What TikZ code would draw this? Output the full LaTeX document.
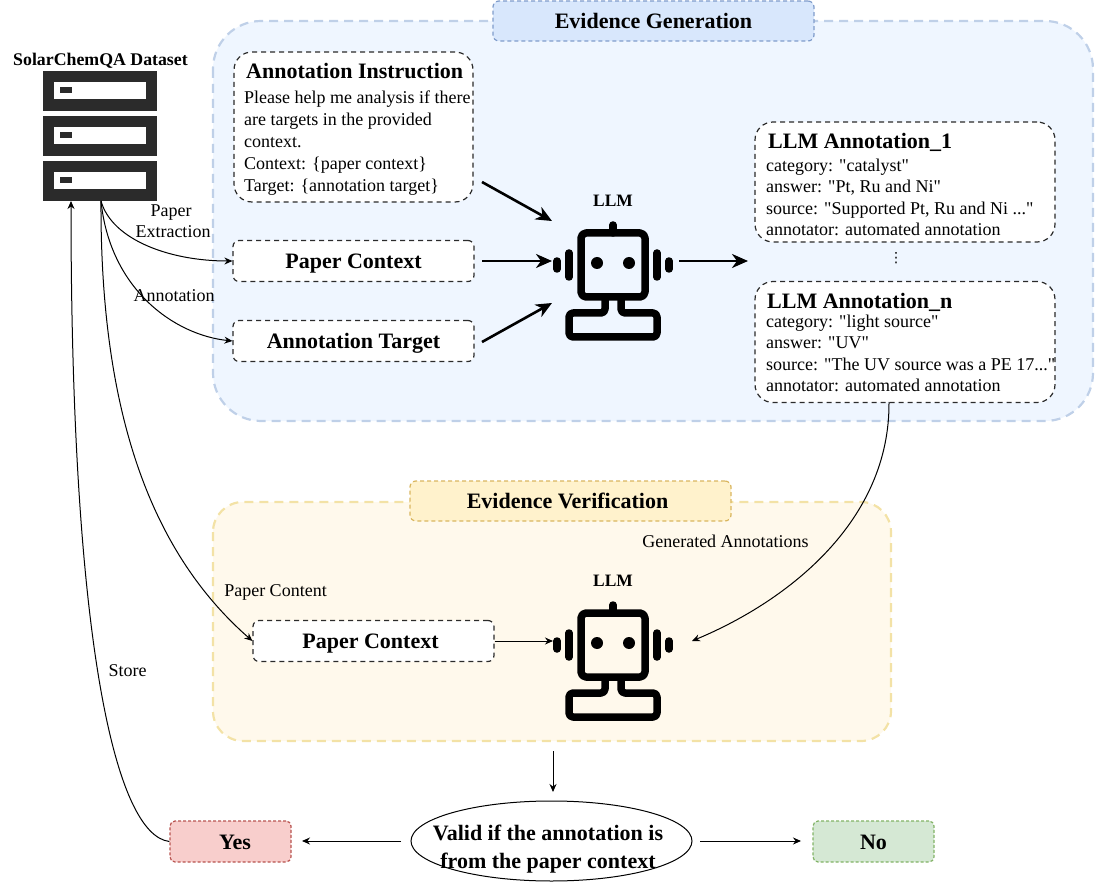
\documentclass[tikz,border=0pt]{standalone}
\usepackage{fontspec}
\setmainfont{Liberation Serif}[Ligatures=TeXOff]
\newfontfamily\dvfont{DejaVu Sans}
\usetikzlibrary{arrows.meta,shapes.geometric}
\definecolor{genfill}{HTML}{EFF6FF}
\definecolor{gendraw}{HTML}{BFD0E8}
\definecolor{gentitle}{HTML}{D8E7FC}
\definecolor{gentitled}{HTML}{7F9CCB}
\definecolor{verfill}{HTML}{FFF9EC}
\definecolor{verdraw}{HTML}{F3E2A6}
\definecolor{vertitle}{HTML}{FFF2CC}
\definecolor{vertitled}{HTML}{D9B65F}
\definecolor{yesfill}{HTML}{F8CECC}
\definecolor{yesdraw}{HTML}{B85450}
\definecolor{nofill}{HTML}{D5E8D4}
\definecolor{nodraw}{HTML}{82B366}
\definecolor{inkd}{HTML}{2B2B2B}
\tikzset{
  x=1pt,y=-1pt,
  panel/.style={line width=2.2pt,dash pattern=on 9pt off 6pt},
  titlebox/.style={line width=1.2pt,dash pattern=on 4pt off 3pt,rounded corners=6pt,font=\fontsize{22}{25}\selectfont\bfseries,inner sep=0pt,minimum width=321pt,minimum height=40pt},
  boxd/.style={draw=inkd,fill=white,line width=1.2pt,dash pattern=on 5pt off 4pt,rounded corners=6pt,inner sep=0pt,font=\fontsize{22}{25}\selectfont\bfseries,text height=15pt,text depth=0pt},
  bigbox/.style={boxd,rounded corners=18pt},
  resbox/.style={line width=1.2pt,dash pattern=on 3pt off 2pt,rounded corners=5pt,inner sep=0pt,minimum width=121pt,minimum height=41pt,font=\fontsize{22}{25}\selectfont\bfseries,text height=15pt,text depth=0pt},
  heavy/.style={line width=2.6pt,-{Stealth[length=16pt,width=14pt,inset=5pt]}},
  slim/.style={line width=1pt,-{Stealth[length=8pt,width=7pt]}},
  lbl/.style={font=\fontsize{18}{21}\selectfont,inner sep=0pt},
  blbl/.style={font=\fontsize{22}{25}\selectfont\bfseries,inner sep=0pt},
  body/.style={anchor=north west,align=left,inner sep=0pt,font=\fontsize{18}{21.3}\selectfont},
  smallb/.style={font=\fontsize{17.4}{20}\selectfont\bfseries,inner sep=0pt},
  rob/.style={line width=7.5pt,line cap=round,line join=round,draw=black},
}
\newcommand{\robot}[2]{%
  \begin{scope}[shift={(#1,#2)}]
    \draw[rob,rounded corners=5pt] (-32,-30) rectangle (32,34);
    \draw[rob] (0,-38) -- (0,-30);
    \fill (-16,0) circle (6);
    \fill (16,0) circle (6);
    \draw[rob] (-44,-10) -- (-44,14);
    \draw[rob] (44,-10) -- (44,14);
    \draw[rob] (-56,-2) -- (-56,6);
    \draw[rob] (56,-2) -- (56,6);
    \draw[rob,line cap=butt,rounded corners=4pt] (-8,34) -- (-8,50) -- (-44,50) -- (-44,74) -- (44,74) -- (44,50) -- (8,50) -- (8,34);
  \end{scope}}
\newcommand{\rack}[1]{%
  \fill[inkd] (43,#1) rectangle (157,#1+40);
  \fill[white] (54,#1+11) rectangle (146,#1+28);
  \fill[inkd] (60,#1+16) rectangle (72,#1+22);}
\begin{document}
\begin{tikzpicture}
\useasboundingbox (0,0) rectangle (1095,882);
% panels
\draw[panel,draw=gendraw,fill=genfill,rounded corners=48pt] (213,21) rectangle (1093,421);
\draw[panel,draw=verdraw,fill=verfill,rounded corners=30pt] (213,502) rectangle (891,741);
\node[titlebox,draw=gentitled,fill=gentitle] (gentitle) at (653.5,21) {Evidence Generation};
\node[titlebox,draw=vertitled,fill=vertitle] (vertitle) at (570.5,501) {\hspace*{-6pt}Evidence Verification};
% dataset
\node[font=\fontsize{17.8}{20}\selectfont\bfseries,inner sep=0pt] (dstitle) at (100.5,61) {SolarChemQA Dataset};
\rack{71}\rack{116}\rack{161}
\coordinate (dsout) at (101,201);
\coordinate (dsin) at (71,201);
% left boxes
\node[bigbox,minimum width=239pt,minimum height=150pt] (instr) at (353.5,127) {};
\node[blbl,anchor=west] (instrt) at (246,71) {Annotation Instruction};
\node[body,font=\fontsize{18}{22}\selectfont] (instrb) at (244,91) {Please help me analysis if there\\are targets in the provided\\context.\\Context: \{paper context\}\\Target: \{annotation target\}};
\node[boxd,minimum width=241pt,minimum height=41pt] (pc) at (353.5,261) {Paper Context};
\node[boxd,minimum width=241pt,minimum height=41pt] (at) at (353.5,341) {Annotation Target};
% right boxes
\node[bigbox,minimum width=300pt,minimum height=120pt] (a1) at (905,182) {};
\node[blbl,anchor=west] (a1t) at (768,142) {LLM Annotation\_1};
\node[body] (a1b) at (766,159) {category: "catalyst"\\answer: "Pt, Ru and Ni"\\source: "Supported Pt, Ru and Ni ..."\\annotator: automated annotation};
\node[font=\dvfont\fontsize{14}{16}\selectfont,inner sep=0pt] (dots) at (896,258) {⋮};
\node[bigbox,minimum width=300pt,minimum height=121pt] (an) at (905,342) {};
\node[blbl,anchor=west] (ant) at (767,302) {LLM Annotation\_n};
\node[body] (anb) at (766,315) {category: "light source"\\answer: "UV"\\source: "The UV source was a PE 17..."\\annotator: automated annotation};
% robots
\node[smallb] (llm1) at (613,201) {LLM};
\robot{613}{263}
\node[smallb] (llm2) at (613,581) {LLM};
\robot{613}{643}
\coordinate (i1) at (482,182);
\coordinate (i2) at (482,261);
\coordinate (i3) at (482,342);
\coordinate (r1a) at (552,221);
\coordinate (r1b) at (552,261);
\coordinate (r1c) at (552,303);
\coordinate (r1o) at (679,261);
\coordinate (r1t) at (748,261);
\coordinate (r2a) at (553,641);
\coordinate (r2b) at (692,641);
\coordinate (anout) at (889,402);
\draw[heavy] (i1) -- (r1a);
\draw[heavy] (i2) -- (r1b);
\draw[heavy] (i3) -- (r1c);
\draw[heavy] (r1o) -- (r1t);
% verification
\node[boxd,minimum width=241pt,minimum height=41pt] (pc2) at (373.5,641) {\hspace*{-6pt}Paper Context};
\draw[slim] (pc2.east) -- (r2a);
\node[draw=black,line width=1pt,fill=white,ellipse,inner sep=0pt,minimum width=281pt,minimum height=80pt] (valid) at (551.5,841) {};
\node[align=center,inner sep=0pt,font=\fontsize{22}{28}\selectfont\bfseries] (validt) at (548,849) {Valid if the annotation is\\from the paper context};
\node[resbox,draw=yesdraw,fill=yesfill] (yes) at (230.5,841.5) {\hspace*{9pt}Yes};
\node[resbox,draw=nodraw,fill=nofill] (no) at (873.5,841.5) {No};
\coordinate (vin0) at (553,751);
\coordinate (vin1) at (553,792);
\coordinate (vl0) at (401,841);
\coordinate (vl1) at (302,841);
\coordinate (vr0) at (700,841);
\coordinate (vr1) at (801,841);
\draw[slim] (vin0) -- (vin1);
\draw[slim] (vl0) -- (vl1);
\draw[slim] (vr0) -- (vr1);
% curved connectors
\draw[slim] (dsout) .. controls (112,240) and (170,261) .. (pc.west);
\draw[slim] (dsout) .. controls (110,290) and (175,335) .. (at.west);
\draw[slim] (dsout) .. controls (100,430) and (160,560) .. (pc2.west);
\draw[slim] (yes.west) .. controls (115,835) and (71,640) .. (dsin);
\draw[slim] (anout) .. controls (890,520) and (790,600) .. (r2b);
% labels
\node[lbl,align=center] (lpe) at (173,221.5) {\hspace*{-4pt}Paper\\Extraction};
\node[lbl] (lan) at (174,296) {Annotation};
\node[lbl] (lpc) at (275.5,592) {Paper Content};
\node[lbl] (lga) at (725.5,541) {Generated Annotations};
\node[lbl] (lst) at (127.5,671) {Store};
\end{tikzpicture}
\end{document}
